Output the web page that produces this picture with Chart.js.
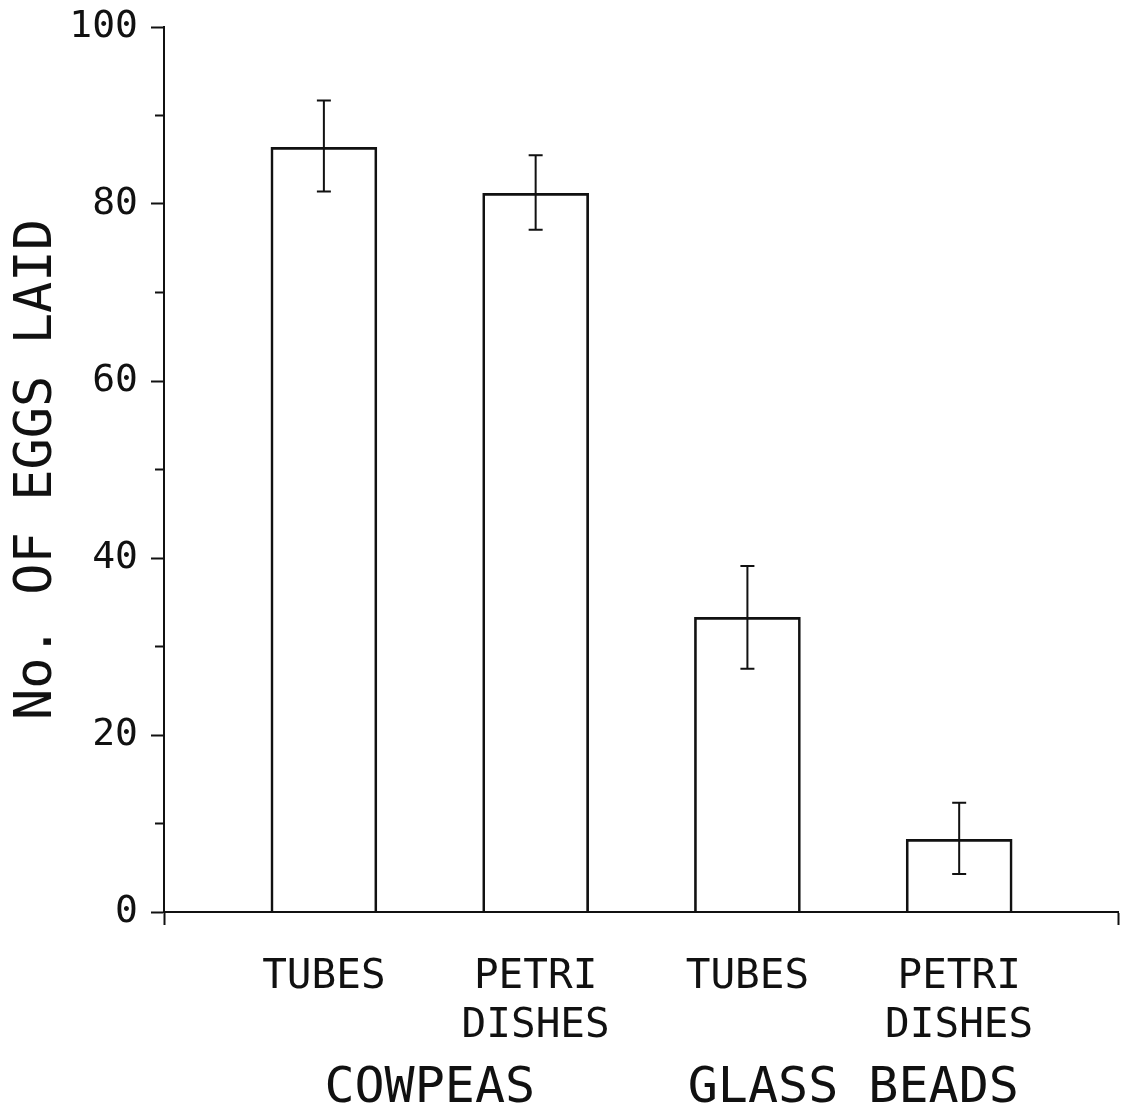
<!DOCTYPE html>
<html>
<head>
<meta charset="utf-8">
<script src="https://cdn.jsdelivr.net/npm/chart.js@4/dist/chart.umd.min.js"></script>
<style>
  html, body { margin: 0; padding: 0; background: #fff; }
  #wrap { width: 1123px; height: 1113px; }
</style>
</head>
<body>
<div id="wrap"><canvas id="eggsChart"></canvas></div>
<script>
const positions = [1, 2, 3, 4];
const treatments = [["TUBES"], ["PETRI", "DISHES"], ["TUBES"], ["PETRI", "DISHES"]];
const eggs = [86.4, 81.2, 33.3, 8.2];
const errLow = [81.4, 77.1, 27.5, 4.3];
const errHigh = [91.7, 85.5, 39.1, 12.35];
const groups = ["COWPEAS", "GLASS BEADS"];
const groupCentres = [1.5, 3.5];
const yMajor = [0, 20, 40, 60, 80, 100];
const yMinor = [10, 30, 50, 70, 90];

const FONT = "'DejaVu Sans Mono', monospace";
const X_MIN = 0.245, X_MAX = 4.75;

// error bars, minor y ticks and group names
const extras = {
  id: "extras",
  afterDatasetsDraw(chart) {
    const { ctx, scales: { x, y } } = chart;
    ctx.save();
    ctx.strokeStyle = "#111";
    ctx.lineWidth = 2;
    positions.forEach((p, i) => {
      const px = x.getPixelForValue(p);
      const top = y.getPixelForValue(errHigh[i]);
      const bot = y.getPixelForValue(errLow[i]);
      ctx.beginPath();
      ctx.moveTo(px, top); ctx.lineTo(px, bot);
      ctx.moveTo(px - 7, top); ctx.lineTo(px + 7, top);
      ctx.moveTo(px - 7, bot); ctx.lineTo(px + 7, bot);
      ctx.stroke();
    });
    yMinor.forEach(v => {
      const py = y.getPixelForValue(v);
      ctx.beginPath();
      ctx.moveTo(x.left - 9, py); ctx.lineTo(x.left, py);
      ctx.stroke();
    });
    ctx.fillStyle = "#111";
    ctx.font = "50px " + FONT;
    ctx.textAlign = "center";
    ctx.textBaseline = "alphabetic";
    groups.forEach((g, i) => {
      ctx.fillText(g, x.getPixelForValue(groupCentres[i]), 1102);
    });
    ctx.restore();
  }
};

new Chart(document.getElementById("eggsChart"), {
  type: "bar",
  data: {
    datasets: [{
      data: positions.map((p, i) => ({ x: p, y: eggs[i] })),
      backgroundColor: "rgba(0,0,0,0)",
      borderColor: "#111",
      borderWidth: { top: 2, left: 2, right: 2, bottom: 0 },
      borderSkipped: false,
      barThickness: 106
    }]
  },
  options: {
    responsive: true,
    maintainAspectRatio: false,
    animation: false,
    events: [],
    layout: { padding: { top: 27, right: 5, left: 0, bottom: 0 } },
    plugins: { legend: { display: false }, tooltip: { enabled: false } },
    scales: {
      x: {
        type: "linear",
        min: X_MIN,
        max: X_MAX,
        offset: false,
        afterBuildTicks: s => { s.ticks = [X_MIN, ...positions, X_MAX].map(v => ({ value: v })); },
        afterFit: s => { s.height = 201; s.paddingLeft = 0; s.paddingRight = 0; },
        border: { display: true, color: "#111", width: 2 },
        grid: {
          offset: false,
          drawOnChartArea: false,
          tickLength: 13,
          tickWidth: 2,
          tickColor: c => (c.tick && positions.includes(c.tick.value)) ? "rgba(0,0,0,0)" : "#111"
        },
        ticks: {
          autoSkip: false,
          maxRotation: 0,
          padding: 28,
          color: "#111",
          font: { family: FONT, size: 41 },
          callback: v => {
            const i = positions.indexOf(v);
            return i >= 0 ? treatments[i] : "";
          }
        }
      },
      y: {
        min: 0,
        max: 100,
        afterBuildTicks: s => { s.ticks = yMajor.map(v => ({ value: v })); },
        afterFit: s => { s.width = 164; s.paddingTop = 0; s.paddingBottom = 0; },
        border: { display: true, color: "#111", width: 2 },
        grid: { drawOnChartArea: false, tickLength: 13, tickWidth: 2, tickColor: "#111" },
        ticks: {
          padding: 13,
          color: "#111",
          font: { family: FONT, size: 38 }
        },
        title: {
          display: true,
          text: "No. OF EGGS LAID",
          color: "#111",
          font: { family: FONT, size: 52 },
          padding: { top: 6, bottom: 0 }
        }
      }
    }
  },
  plugins: [extras]
});
</script>
</body>
</html>
